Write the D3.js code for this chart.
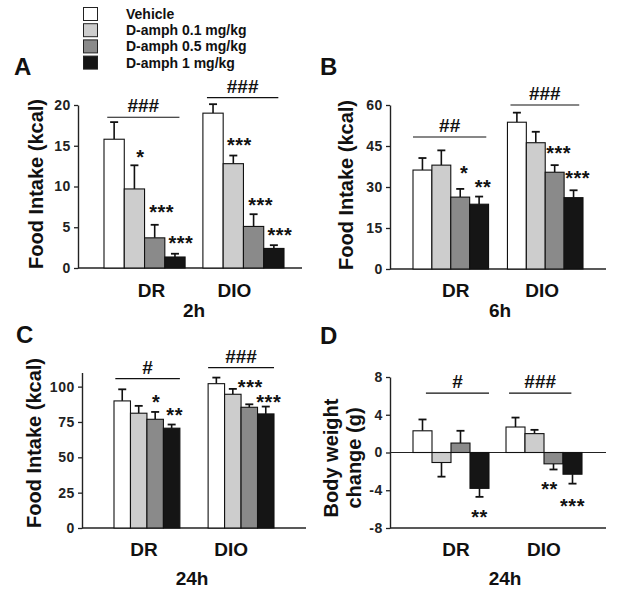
<!DOCTYPE html>
<html><head><meta charset="utf-8">
<script src="https://cdn.jsdelivr.net/npm/d3@7"></script>
<style>
body{margin:0;background:#fff}
svg{display:block;font-family:"Liberation Sans",Arial,sans-serif;font-weight:bold}
</style>
</head><body>
<svg id="chart" width="624" height="597"></svg>
<script>
// ---------------- DATA ----------------
const categories = ["DR", "DIO"];
const series = ["Vehicle", "D-amph 0.1 mg/kg", "D-amph 0.5 mg/kg", "D-amph 1 mg/kg"];

// A: food intake 2h (kcal) [DR, DIO] x [Vehicle, 0.1, 0.5, 1]
const meanA = [[15.8, 9.7, 3.7, 1.35], [19.0, 12.8, 5.1, 2.4]];
const semA  = [[2.1, 2.9, 1.6, 0.4], [1.1, 1.0, 1.5, 0.4]];
// B: food intake 6h (kcal)
const meanB = [[36.2, 38.0, 26.3, 23.7], [53.7, 46.2, 35.4, 26.1]];
const semB  = [[4.4, 5.4, 3.0, 2.8], [3.5, 4.0, 2.6, 2.7]];
// C: food intake 24h (kcal)
const meanC = [[89.9, 81.2, 76.9, 70.6], [102.1, 94.6, 85.4, 80.7]];
const semC  = [[8.2, 5.2, 5.2, 2.6], [4.3, 3.8, 2.1, 5.2]];
// D: body weight change 24h (g)
const meanD = [[2.3, -1.06, 1.0, -3.8], [2.7, 2.0, -1.2, -2.3]];
const semD  = [[1.2, 1.5, 1.3, 0.9], [1.0, 0.4, 0.6, 1.0]];

const ticksA = [0, 5, 10, 15, 20];
const ticksB = [0, 15, 30, 45, 60];
const ticksC = [0, 25, 50, 75, 100];
const ticksD = [-8, -4, 0, 4, 8];

// significance stars: [category index, series index, label, y (data units)]
const starsA = [[0,1,"*",14.2],[0,2,"***",7.5],[0,3,"***",3.7],[1,1,"***",15.7],[1,2,"***",8.3],[1,3,"***",4.7]];
const starsB = [[0,2,"*",37.0],[0,3,"**",31.8],[1,2,"***",44.3],[1,3,"***",35.1]];
const starsC = [[0,2,"*",92.9],[0,3,"**",83.7],[1,2,"***",103.5],[1,3,"***",92.9]];
const starsD = [[0,3,"**",-6.3],[1,2,"**",-3.3],[1,3,"***",-5.1]];

// group brackets: [category index, y (data units), label, from, to (fraction of band)]
const bracketsA = [[0,18.5,"###",0.04,0.93],[1,20.9,"###",0.05,0.93]];
const bracketsB = [[0,48.3,"##",0.0,0.97],[1,60.0,"###",0.04,0.95]];
const bracketsC = [[0,105.7,"#",0.02,1.0],[1,113.5,"###",0.0,1.0]];
const bracketsD = [[0,6.3,"#",0.17,1.0],[1,6.3,"###",0.04,0.86]];

// ---------------- STYLE / LAYOUT ----------------
const colors = ["#ffffff", "#cdcdcd", "#8a8a8a", "#151515"];

const panels = [
  {letter:"A", mean:meanA, sem:semA, domain:[0,20], ticks:ticksA, stars:starsA, brackets:bracketsA,
   ox:78, xEnd:302, yTop:105, yBot:268, band:[104,284], pad:0.18, starDx:[0,6,7,6],
   letterPos:[14,75], ylab:["Food Intake (kcal)"], ylabPos:[36,184],
   catDx:[7,-9], catY:297, time:"2h", timePos:[194,317]},
  {letter:"B", mean:meanB, sem:semB, domain:[0,60], ticks:ticksB, stars:starsB, brackets:bracketsB,
   ox:390, xEnd:606, yTop:105, yBot:269, band:[413,583], pad:0.2, starDx:[0,0,4,4],
   letterPos:[320,75], ylab:["Food Intake (kcal)"], ylabPos:[346,185],
   catDx:[5,-3], catY:297, time:"6h", timePos:[500,317]},
  {letter:"C", mean:meanC, sem:semC, domain:[0,110], ticks:ticksC, stars:starsC, brackets:bracketsC,
   ox:82, xEnd:306, yTop:372.5, yBot:528, band:[114,274], pad:0.3, starDx:[0,0,1,3],
   letterPos:[16,343], ylab:["Food Intake (kcal)"], ylabPos:[34,443],
   catDx:[-3,-10], catY:556, time:"24h", timePos:[192,585]},
  {letter:"D", mean:meanD, sem:semD, domain:[-8,8], ticks:ticksD, stars:starsD, brackets:bracketsD,
   ox:390, xEnd:606, yTop:377, yBot:528, band:[413,582], pad:0.183, starDx:[0,0,-4,0],
   letterPos:[320,344], ylab:["Body weight","change (g)"], ylabPos:[342,458],
   catDx:[5,0], catY:556, time:"24h", timePos:[505,585], zeroLine:true}
];

const svg = d3.select("#chart");
svg.append("rect").attr("width",624).attr("height",597).attr("fill","#fff");

// ---------------- LEGEND ----------------
const legend = svg.append("g").attr("transform","translate(83,7)");
series.forEach((s,i)=>{
  const g = legend.append("g").attr("transform",`translate(0,${i*16.2})`);
  g.append("rect").attr("x",0.5).attr("y",0.5).attr("width",14).attr("height",13)
    .attr("fill",colors[i]).attr("stroke","#222").attr("stroke-width",1);
  g.append("text").attr("x",43).attr("y",12).attr("font-size",14).attr("fill","#111").text(s);
});

// ---------------- PANELS ----------------
panels.forEach(p=>{
  const g = svg.append("g");
  const y = d3.scaleLinear().domain(p.domain).range([p.yBot, p.yTop]);
  const x0 = d3.scaleBand().domain(categories).range(p.band).paddingInner(p.pad).paddingOuter(0);
  const x1 = d3.scaleBand().domain(series).range([0, x0.bandwidth()]).padding(0);

  // y axis
  const ya = g.append("g").attr("transform",`translate(${p.ox},0)`)
    .call(d3.axisLeft(y).tickValues(p.ticks).tickSize(4).tickSizeOuter(0).tickPadding(3).tickFormat(d=>String(d)));
  ya.select(".domain").attr("stroke","#222").attr("stroke-width",1.4);
  ya.selectAll(".tick line").attr("stroke","#222").attr("stroke-width",1.3);
  ya.selectAll(".tick text").attr("font-size",14).attr("font-family","Liberation Sans, Arial, sans-serif")
    .attr("font-weight","bold").attr("fill","#222").attr("letter-spacing","0.6px");

  // x axis line (bottom of plot)
  const yb = y(p.domain[0]);
  g.append("line").attr("x1",p.ox).attr("x2",p.xEnd).attr("y1",yb).attr("y2",yb)
    .attr("stroke","#222").attr("stroke-width",1.4);
  if (p.zeroLine) {
    g.append("line").attr("x1",p.ox).attr("x2",p.xEnd).attr("y1",y(0)).attr("y2",y(0))
      .attr("stroke","#222").attr("stroke-width",1.2);
  }

  // category labels
  const xa = g.append("g").attr("transform",`translate(0,${yb})`)
    .call(d3.axisBottom(x0).tickSize(0).tickPadding(0));
  xa.select(".domain").remove();
  xa.selectAll(".tick text")
    .attr("font-size",19).attr("font-family","Liberation Sans, Arial, sans-serif").attr("font-weight","bold")
    .attr("fill","#111").attr("dy",null)
    .attr("y", p.catY - yb)
    .attr("x",(d,i)=>p.catDx[i]);

  // bars + error bars
  categories.forEach((c,ci)=>{
    series.forEach((s,si)=>{
      const v = p.mean[ci][si], e = p.sem[ci][si];
      const bx = x0(c) + x1(s), bw = x1.bandwidth();
      const top = y(Math.max(0,v)), bot = y(Math.min(0,v));
      const cx = bx + bw/2;
      const ev = v >= 0 ? v + e : v - e;
      g.append("line").attr("x1",cx).attr("x2",cx).attr("y1",y(v)).attr("y2",y(ev))
        .attr("stroke","#111").attr("stroke-width",1.6);
      g.append("line").attr("x1",cx-4).attr("x2",cx+4).attr("y1",y(ev)).attr("y2",y(ev))
        .attr("stroke","#111").attr("stroke-width",1.8);
      g.append("rect").attr("x",bx).attr("y",top).attr("width",bw).attr("height",bot-top)
        .attr("fill",colors[si]).attr("stroke","#111").attr("stroke-width",1.1);
    });
  });

  // stars
  p.stars.forEach(([ci,si,lab,yv])=>{
    const cx = x0(categories[ci]) + x1(series[si]) + x1.bandwidth()/2 + p.starDx[si];
    g.append("text").attr("x",cx).attr("y",y(yv)).attr("dy","0.6em")
      .attr("text-anchor","middle").attr("font-size",20).attr("fill","#111")
      .attr("letter-spacing","0.5px").text(lab);
  });

  // brackets
  p.brackets.forEach(([ci,yv,lab,f,t])=>{
    const bx = x0(categories[ci]), bw = x0.bandwidth();
    const xa1 = bx + f*bw, xa2 = bx + t*bw, yy = y(yv);
    g.append("line").attr("x1",xa1).attr("x2",xa2).attr("y1",yy).attr("y2",yy)
      .attr("stroke","#111").attr("stroke-width",1.2);
    g.append("text").attr("x",(xa1+xa2)/2).attr("y",yy-5).attr("text-anchor","middle")
      .attr("font-size",19).attr("fill","#111").text(lab);
  });

  // panel letter
  g.append("text").attr("x",p.letterPos[0]).attr("y",p.letterPos[1]).attr("font-size",24)
    .attr("fill","#111").text(p.letter);

  // y label
  const n = p.ylab.length;
  p.ylab.forEach((t,i)=>{
    const cxl = p.ylabPos[0] + (i - (n-1)/2) * 23;
    g.append("text").attr("transform",`translate(${cxl},${p.ylabPos[1]}) rotate(-90)`)
      .attr("text-anchor","middle").attr("dy","0.36em").attr("font-size",20).attr("fill","#111").text(t);
  });

  // time label
  g.append("text").attr("x",p.timePos[0]).attr("y",p.timePos[1]).attr("text-anchor","middle")
    .attr("font-size",19).attr("fill","#111").text(p.time);
});
</script>
</body></html>
